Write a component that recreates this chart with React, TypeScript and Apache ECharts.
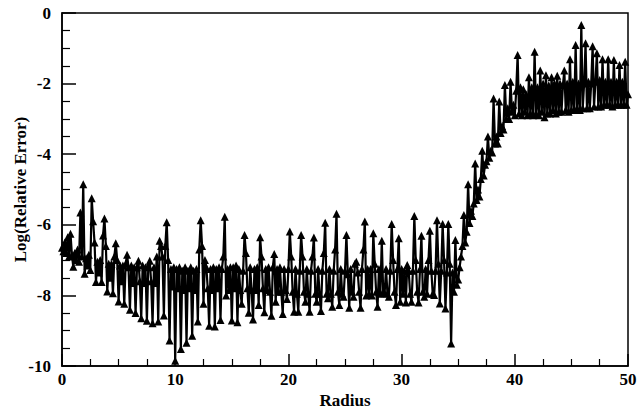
import React, { useEffect, useRef } from "react";
import * as echarts from "echarts";

// Sampling step of the radius grid (values are read at every 1/8 unit)
const STEP = 0.125;

// Log(relative error), 8 samples per unit of radius
const err0to10 = [
  -6.65, -6.75, -6.5, -6.8, -6.35, -6.9, -6.25, -6.85,
  -7.19, -6.8, -7.0, -6.7, -7.05, -5.65, -6.9, -4.85,
  -7.39, -6.95, -7.15, -6.85, -7.28, -5.25, -5.9, -6.5,
  -7.62, -7.05, -7.35, -7.0, -7.62, -6.3, -5.82, -6.6,
  -7.89, -7.1, -7.5, -7.1, -7.94, -6.9, -6.52, -7.0,
  -8.17, -7.15, -7.6, -7.15, -8.24, -7.1, -6.85, -7.2,
  -8.41, -7.15, -7.65, -7.2, -8.5, -7.2, -7.02, -7.6,
  -8.65, -7.15, -7.65, -7.2, -8.72, -7.15, -7.02, -7.6,
  -8.79, -7.2, -7.65, -6.9, -8.74, -6.45, -6.6, -6.9,
  -8.57, -6.6, -5.93, -7.0, -9.28, -7.25, -7.75, -7.2,
];
const err10to20 = [
  -9.85, -7.25, -7.8, -7.2, -9.52, -7.3, -7.85, -7.2,
  -9.34, -7.3, -7.8, -7.2, -9.14, -7.3, -7.85, -7.25,
  -8.74, -6.7, -5.87, -6.6, -8.24, -7.0, -7.2, -7.8,
  -8.86, -7.25, -7.85, -7.2, -8.88, -7.25, -7.8, -7.2,
  -8.7, -7.25, -6.9, -5.77, -8.0, -7.25, -7.85, -7.2,
  -8.71, -7.2, -7.8, -7.15, -8.76, -7.25, -7.85, -8.24,
  -7.3, -6.29, -6.8, -7.8, -8.49, -7.2, -7.85, -8.68,
  -7.25, -7.85, -7.2, -8.27, -6.35, -6.9, -7.8, -8.48,
  -7.25, -7.85, -7.2, -7.9, -8.58, -7.2, -6.83, -8.18,
  -7.25, -7.9, -7.2, -7.9, -8.53, -7.25, -7.85, -8.1,
];
const err20to30 = [
  -7.25, -6.19, -6.9, -7.9, -8.46, -7.25, -7.95, -8.46,
  -7.3, -6.29, -6.9, -7.9, -8.18, -7.25, -7.95, -8.46,
  -7.3, -6.9, -6.36, -7.95, -8.18, -7.25, -7.95, -8.44,
  -7.3, -6.8, -5.94, -7.95, -8.08, -7.25, -7.95, -8.32,
  -7.3, -6.7, -5.69, -7.9, -8.27, -7.25, -7.95, -8.04,
  -7.3, -6.29, -7.4, -8.35, -7.25, -7.9, -8.04, -7.1,
  -7.05, -7.35, -7.9, -8.35, -7.25, -6.7, -5.91, -8.0,
  -7.25, -7.95, -7.25, -8.0, -6.24, -7.1, -7.9, -8.32,
  -7.25, -7.95, -6.45, -7.9, -7.94, -7.25, -7.95, -8.04,
  -7.3, -5.98, -7.0, -7.9, -8.27, -7.25, -6.38, -8.18,
];
const err30to40 = [
  -7.25, -7.95, -7.3, -8.2, -7.14, -7.3, -7.95, -8.18,
  -7.3, -5.75, -7.0, -7.9, -8.2, -7.25, -6.31, -7.9,
  -8.04, -7.25, -7.95, -7.0, -6.17, -7.3, -7.95, -7.99,
  -7.3, -5.87, -7.1, -8.23, -7.3, -5.98, -7.0, -8.37,
  -7.35, -5.98, -7.1, -9.36, -7.35, -7.9, -6.43, -7.7,
  -7.55, -7.2, -6.9, -6.6, -5.72, -6.5, -6.2, -4.85,
  -5.95, -5.6, -5.75, -5.4, -4.26, -5.3, -5.0, -5.2,
  -4.7, -3.9, -4.6, -4.3, -4.2, -3.5, -4.1, -3.9,
  -3.95, -2.42, -3.7, -3.5, -3.7, -2.51, -3.4, -3.2,
  -3.3, -2.04, -3.0, -2.7, -3.0, -1.95, -2.8, -2.6,
];
const err40to50 = [
  -2.9, -2.2, -1.19, -2.85, -2.1, -2.9, -2.16, -2.8,
  -2.3, -2.9, -1.82, -2.85, -2.1, -2.9, -1.1, -2.85,
  -2.1, -2.9, -1.63, -2.8, -2.0, -2.95, -1.76, -2.85,
  -2.05, -2.85, -1.82, -2.75, -2.0, -2.85, -1.78, -2.8,
  -2.0, -2.8, -2.05, -1.63, -2.75, -2.0, -2.8, -1.31,
  -2.75, -1.95, -2.75, -0.91, -2.7, -2.0, -2.75, -0.34,
  -2.7, -2.0, -0.86, -2.7, -1.95, -2.7, -2.0, -0.94,
  -2.65, -1.95, -1.14, -2.65, -1.9, -2.65, -1.31, -2.6,
  -1.95, -2.6, -1.31, -2.6, -1.95, -2.65, -1.33, -2.6,
  -1.95, -2.6, -1.47, -2.6, -1.95, -2.6, -1.38, -2.6,
  -2.3,
];

const xTicks = [0, 10, 20, 30, 40, 50];
const yTicks = [-10, -8, -6, -4, -2, 0];

const FONT = "'Liberation Serif', 'Times New Roman', serif";

export default function App() {
  const ref = useRef<HTMLDivElement>(null);

  useEffect(() => {
    document.body.style.margin = "0";
    if (!ref.current) return;
    const chart = echarts.init(ref.current, null, { renderer: "svg" });
    const values = [...err0to10, ...err10to20, ...err20to30, ...err30to40, ...err40to50];
    const data = values.map((v, i) => [i * STEP, v]);

    const labelStyle = { fontFamily: FONT, fontWeight: "bold" as const, fontSize: 17, color: "#000" };

    chart.setOption({
      animation: false,
      grid: {
        left: 62,
        right: 16,
        top: 13,
        bottom: 44,
        show: true,
        borderColor: "#000",
        borderWidth: 1.5,
        backgroundColor: "transparent",
        containLabel: false,
        outerBoundsMode: "none",
      },
      xAxis: {
        type: "value",
        min: xTicks[0],
        max: xTicks[xTicks.length - 1],
        interval: 10,
        name: "Radius",
        nameLocation: "middle",
        nameGap: 26,
        nameMoveOverlap: false,
        nameTextStyle: labelStyle,
        axisLine: { show: true, onZero: false, lineStyle: { color: "#000", width: 1.5 } },
        axisTick: { show: true, inside: true, length: 12, lineStyle: { color: "#000", width: 1.5 } },
        minorTick: { show: true, splitNumber: 4, length: 7, lineStyle: { color: "#000", width: 1.2 } },
        axisLabel: { ...labelStyle, margin: 5 },
        splitLine: { show: false },
      },
      yAxis: {
        type: "value",
        min: yTicks[0],
        max: yTicks[yTicks.length - 1],
        interval: 2,
        name: "Log(Relative Error)",
        nameLocation: "middle",
        nameRotate: 90,
        nameGap: 33,
        nameMoveOverlap: false,
        nameTextStyle: labelStyle,
        axisLine: { show: true, onZero: false, lineStyle: { color: "#000", width: 1.5 } },
        axisTick: { show: true, inside: true, length: 14, lineStyle: { color: "#000", width: 1.5 } },
        minorTick: { show: true, splitNumber: 4, length: 8, lineStyle: { color: "#000", width: 1.2 } },
        axisLabel: { ...labelStyle, margin: 11 },
        splitLine: { show: false },
      },
      series: [
        {
          type: "line",
          data,
          symbol: "triangle",
          symbolSize: 8,
          showAllSymbol: true,
          lineStyle: { color: "#000", width: 2.2 },
          itemStyle: { color: "#000" },
        },
      ],
    });
    return () => chart.dispose();
  }, []);

  return <div ref={ref} style={{ width: 644, height: 410 }} />;
}
